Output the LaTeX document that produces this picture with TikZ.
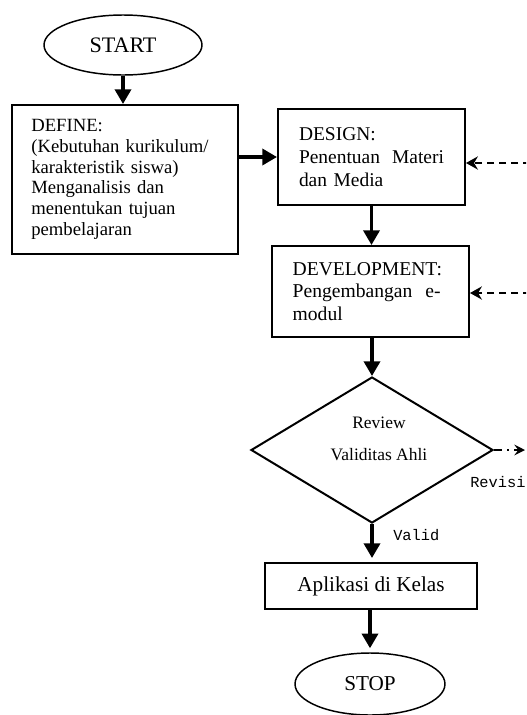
\documentclass[tikz,border=0pt]{standalone}
\usepackage{fontspec}
\setmainfont{Liberation Serif}
\newfontfamily\labelmono{Liberation Mono}
\usetikzlibrary{arrows.meta,shapes.geometric}
\tikzset{
  box/.style={draw, line width=1.5pt, rectangle, align=left, inner ysep=0pt},
  term/.style={draw, line width=1.1pt, ellipse, inner sep=0pt},
  flow/.style={line width=2.6pt, -{Triangle[width=12pt,length=11pt]}},
  feedback/.style={line width=1pt, dash pattern=on 5.5pt off 3.5pt, -{Stealth[length=9pt,width=10pt,inset=3pt]}},
  revise/.style={line width=1.2pt, dash pattern=on 6pt off 4pt on 1.2pt off 4pt, -{Stealth[length=8pt,width=8pt,inset=3pt]}},
  lbl/.style={font=\labelmono\fontsize{11.5}{13}\selectfont, inner sep=0pt, anchor=west}
}
\begin{document}
\begin{tikzpicture}[x=0.75pt,y=-0.75pt]
\clip (0,0) rectangle (526,715);
\fill[white] (0,0) rectangle (526,715);

\node[term, minimum width=118.5pt, minimum height=45pt, font=\fontsize{16.6}{19}\selectfont] (start) at (123,45) {START};

\node[box, minimum width=169.5pt, minimum height=111.75pt, inner xsep=14.5pt, text width=140.5pt,
      font=\fontsize{14}{15.5}\selectfont] (def) at (125,179.5)
  {DEFINE:\\(Kebutuhan kurikulum/\\karakteristik siswa)\\Menganalisis dan\\menentukan tujuan\\pembelajaran};

\node[box, minimum width=140.25pt, minimum height=72pt, inner xsep=15.75pt, text width=108.75pt,
      font=\fontsize{14.6}{17}\selectfont] (des) at (371.5,157)
  {DESIGN:\\\leavevmode\hbox to 108.75pt{Penentuan\hfill Materi}\\dan Media};

\node[box, minimum width=147.75pt, minimum height=68.25pt, inner xsep=15.5pt, text width=116.75pt,
      font=\fontsize{14.7}{16.8}\selectfont] (dev) at (370.5,291.5)
  {DEVELOPMENT:\\\leavevmode\hbox to 111pt{Pengembangan\hfill e-}\\modul};

\node[draw, diamond, line width=1.5pt, inner sep=0pt, minimum width=181.5pt, minimum height=109.5pt] (dia) at (372,450) {};
\node[align=center, inner sep=0pt, font=\fontsize{13.1}{24}\selectfont] (diatext) at (379,439) {Review\\Validitas Ahli};

\node[box, minimum width=159pt, minimum height=34.5pt, inner xsep=0pt, font=\fontsize{15.9}{18}\selectfont] (app) at (371,586) {Aplikasi di Kelas};

\node[term, minimum width=112.5pt, minimum height=46.5pt, font=\fontsize{15.9}{18}\selectfont] (stop) at (370,684) {STOP};

\coordinate (fb1) at (530,163);
\coordinate (fb2) at (530,293);
\coordinate (rev) at (525,450);

\draw[flow] (start.south) -- (start.south |- def.north);
\draw[flow] (des.west -| def.east) -- (des.west);
\draw[flow] (des.south) -- (des.south |- dev.north);
\draw[flow] (dev.south -| dia.north) -- (dia.north);
\draw[flow] (dia.south) -- ([yshift=3pt]dia.south |- app.north);
\draw[flow, shorten >=3pt] (app.south -| stop.north) -- (stop.north);

\draw[feedback] (fb1) -- (fb1 -| des.east);
\draw[feedback] (fb2) -- (fb2 -| dev.east);
\draw[revise] (dia.east) -- (rev);

\node[lbl] (revlbl) at (470,482) {Revisi};
\node[lbl] (vallbl) at (393,535) {Valid};
\end{tikzpicture}
\end{document}
